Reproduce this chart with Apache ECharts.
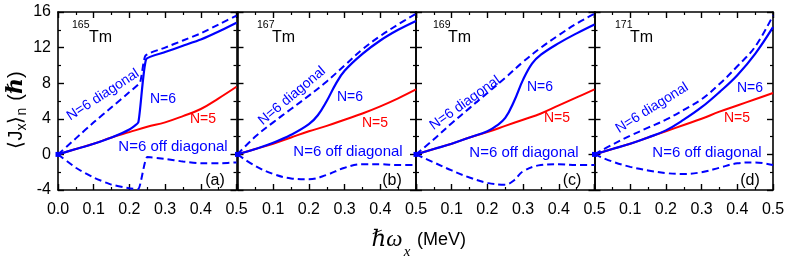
<!DOCTYPE html>
<html><head><meta charset="utf-8">
<script src="https://cdn.jsdelivr.net/npm/echarts@6/dist/echarts.min.js"></script>
<style>html,body{margin:0;padding:0;background:#fff}#c{width:789px;height:263px}</style>
</head><body><div id="c"></div>
<script>
// ---- data ----
const omega = [0,0.05,0.1,0.15,0.2,0.25,0.3,0.35,0.4,0.45,0.5];
const xTicks = [0,0.1,0.2,0.3,0.4,0.5];
const yTicks = [-4,0,4,8,12,16];
const nuclei = ['165','167','169','171'];
const panelTags = ['(a)','(b)','(c)','(d)'];

// panel (a) 165Tm
const aN5X = omega;
const aN5Y = [0,0.6,1.2,1.9,2.5,3.1,3.6,4.3,5.1,6.3,7.6];
const aN6X = [0,0.05,0.1,0.15,0.2,0.225,0.247,0.3,0.35,0.4,0.45,0.5];
const aN6Y = [0,0.6,1.2,1.9,2.8,3.6,10.7,11.5,12.2,12.9,13.8,14.8];
const aDiagX = [0,0.05,0.1,0.15,0.2,0.23,0.245,0.3,0.35,0.4,0.45,0.5];
const aDiagY = [0,1.8,3.6,5.3,7.0,8.1,11.1,12.0,12.8,13.6,14.6,15.6];
const aOffX = [0,0.05,0.1,0.15,0.2,0.225,0.25,0.3,0.35,0.4,0.45,0.5];
const aOffY = [0,-1.5,-2.6,-3.4,-3.8,-3.9,-0.3,-0.5,-0.8,-1.0,-1.0,-0.9];

// panel (b) 167Tm
const bN5X = omega;
const bN5Y = [0,0.6,1.2,1.9,2.6,3.2,3.9,4.6,5.4,6.3,7.3];
const bN6X = [0,0.05,0.1,0.15,0.2,0.225,0.25,0.275,0.3,0.35,0.4,0.45,0.5];
const bN6Y = [0,0.6,1.3,2.2,3.4,4.4,6.0,7.9,9.4,11.3,12.8,14.0,15.0];
const bDiagX = omega;
const bDiagY = [0,2.0,3.6,5.1,6.6,8.2,10.0,11.8,13.3,14.6,15.8];
const bOffX = omega;
const bOffY = [0,-1.3,-2.2,-2.7,-2.8,-2.3,-1.5,-1.1,-1.1,-1.2,-1.2];

// panel (c) 169Tm
const cN5X = omega;
const cN5Y = [0,0.6,1.2,1.9,2.5,3.2,3.9,4.6,5.5,6.4,7.3];
const cN6X = [0,0.05,0.1,0.15,0.2,0.225,0.25,0.275,0.3,0.325,0.35,0.4,0.45,0.5];
const cN6Y = [0,0.6,1.2,1.9,2.6,3.2,4.1,6.0,8.4,10.2,11.2,12.5,13.6,14.6];
const cDiagX = omega;
const cDiagY = [0,1.7,3.5,5.2,6.9,8.6,10.4,12.0,13.4,14.7,15.8];
const cOffX = [0,0.05,0.1,0.15,0.2,0.25,0.275,0.3,0.35,0.4,0.45,0.5];
const cOffY = [0,-0.9,-1.8,-2.6,-3.2,-3.4,-2.9,-1.9,-1.2,-1.1,-1.2,-1.2];

// panel (d) 171Tm
const dN5X = omega;
const dN5Y = [0,0.6,1.2,1.9,2.6,3.3,4.0,4.8,5.5,6.2,6.9];
const dN6X = omega;
const dN6Y = [0,0.6,1.2,1.9,2.7,3.9,5.3,7.0,8.9,11.3,14.3];
const dDiagX = omega;
const dDiagY = [0,1.1,2.1,3.0,3.9,5.0,6.2,7.9,9.9,12.1,15.6];
const dOffX = omega;
const dOffY = [0,-0.8,-1.4,-1.8,-2.1,-2.2,-2.0,-1.5,-1.0,-0.9,-1.2];

const panels = [
  {n5:[aN5X,aN5Y], n6:[aN6X,aN6Y], diag:[aDiagX,aDiagY], off:[aOffX,aOffY], jump:true},
  {n5:[bN5X,bN5Y], n6:[bN6X,bN6Y], diag:[bDiagX,bDiagY], off:[bOffX,bOffY]},
  {n5:[cN5X,cN5Y], n6:[cN6X,cN6Y], diag:[cDiagX,cDiagY], off:[cOffX,cOffY]},
  {n5:[dN5X,dN5Y], n6:[dN6X,dN6Y], diag:[dDiagX,dDiagY], off:[dOffX,dOffY]}
];

// ---- layout / style ----
const BLUE = '#0000ff', RED = '#ff0000';
const FONT = '"Liberation Sans", Arial, sans-serif';
const SERIF = '"Liberation Serif", "DejaVu Serif", serif';
const lefts = [58, 237.5, 416, 594.5];
const PW = 178.5, TOP = 12, PH = 178;

const zip = (xs, ys) => xs.map((x, i) => [x, ys[i]]);

const grid = [], xAxis = [], yAxis = [], series = [];
const axLine = {onZero:false, lineStyle:{color:'#000', width:1.6}};
const tick = {inside:true, length:6, lineStyle:{color:'#000', width:1.4}};
const minor = {show:true, splitNumber:2, length:3, lineStyle:{color:'#000', width:1.2}};

panels.forEach((p, i) => {
  grid.push({left:lefts[i], top:TOP, width:PW, height:PH});
  const xBase = {type:'value', gridIndex:i, min:xTicks[0], max:xTicks[xTicks.length-1], interval:0.1,
    axisLine:axLine, axisTick:tick, minorTick:minor, splitLine:{show:false}, minorSplitLine:{show:false}};
  xAxis.push(Object.assign({}, xBase, {position:'bottom',
    axisLabel:{show:true, fontSize:16, color:'#000', fontFamily:FONT, margin:12,
      showMinLabel:i===0, formatter:v=>v.toFixed(1)}}));
  xAxis.push(Object.assign({}, xBase, {position:'top', axisLabel:{show:false}}));
  const yBase = {type:'value', gridIndex:i, min:yTicks[0], max:yTicks[yTicks.length-1], interval:4,
    axisLine:axLine, axisTick:tick, minorTick:minor, splitLine:{show:false}, minorSplitLine:{show:false}};
  yAxis.push(Object.assign({}, yBase, {position:'left',
    axisLabel:{show:i===0, fontSize:16, color:'#000', fontFamily:FONT, margin:7}}));
  yAxis.push(Object.assign({}, yBase, {position:'right', axisLabel:{show:false}}));

  const xi = 2*i, yi = 2*i;
  const sm = p.jump ? 0.15 : 0.4;
  const common = {type:'line', xAxisIndex:xi, yAxisIndex:yi, symbol:'none', animation:false, z:3};
  series.push(Object.assign({}, common, {smooth:0.4, data:zip(...p.n5), lineStyle:{color:RED, width:2}}));
  series.push(Object.assign({}, common, {smooth:sm, data:zip(...p.diag), lineStyle:{color:BLUE, width:2, type:[7,4]}}));
  series.push(Object.assign({}, common, {smooth:sm, data:zip(...p.off), lineStyle:{color:BLUE, width:2, type:[7,4]}}));
  const n6 = zip(...p.n6);
  n6[0] = {value:n6[0], symbol:'rect', symbolSize:5, itemStyle:{color:BLUE}};
  series.push(Object.assign({}, common, {smooth:sm, data:n6, itemStyle:{color:BLUE}, lineStyle:{color:BLUE, width:2.2}, z:4}));
});

// annotation layout (pixels)
const notes = [
  {diag:[103,95,33], n6:[163,99], n5:[203,119], off:[173,147], tag:[215,181], nuc:[72,89]},
  {diag:[292,96,40], n6:[350,97], n5:[375,123], off:[348,152], tag:[392,181], nuc:[257,272]},
  {diag:[465,103,35.5], n6:[540,87], n5:[557,118], off:[524,153], tag:[572,181], nuc:[433,448]},
  {diag:[652,108,32], n6:[750,88], n5:[737,118], off:[707,153], tag:[750,181], nuc:[615,630]}
];
const graphic = [];
const txt = (x, y, text, size, color, extra) => Object.assign({type:'text', x, y, z:10,
  style:{text, fill:color, font:size+'px '+FONT, textAlign:'center', textVerticalAlign:'middle'}}, extra||{});
notes.forEach((n, i) => {
  graphic.push(txt(n.diag[0], n.diag[1], 'N=6 diagonal', 14, BLUE, {rotation:n.diag[2]*Math.PI/180}));
  graphic.push(txt(n.n6[0], n.n6[1], 'N=6', 14, BLUE));
  graphic.push(txt(n.n5[0], n.n5[1], 'N=5', 14, RED));
  graphic.push(txt(n.off[0], n.off[1], 'N=6 off diagonal', 15, BLUE));
  graphic.push(txt(n.tag[0], n.tag[1], panelTags[i], 16, '#000'));
  graphic.push({type:'text', x:n.nuc[0], y:25, z:10, style:{text:nuclei[i], fill:'#000', font:'10.5px '+FONT, textAlign:'left', textVerticalAlign:'middle'}});
  graphic.push({type:'text', x:n.nuc[1], y:38, z:10, style:{text:'Tm', fill:'#000', font:'16px '+FONT, textAlign:'left', textVerticalAlign:'middle'}});
});
// y-axis title
graphic.push({type:'text', x:16, y:110, rotation:Math.PI/2, z:10, style:{
  text:'{a|⟨J}{s|x}{a|⟩}{s|n}{g| }{a|(}{h|ℏ}{a|)}', textAlign:'center', textVerticalAlign:'middle',
  rich:{
    a:{fontSize:20, fontFamily:FONT, fill:'#000', lineHeight:24},
    g:{fontSize:20, fontFamily:FONT, fill:'#000', lineHeight:24, width:7},
    s:{fontSize:14, fontFamily:FONT, fill:'#000', lineHeight:14, padding:[12,0,0,0]},
    h:{fontSize:22, fontFamily:SERIF, fontStyle:'italic', fontWeight:'bold', fill:'#000', lineHeight:24}
  }}});
// x-axis title
graphic.push({type:'text', x:387, y:240, z:10, style:{text:'ℏω', fill:'#000', font:'italic 23px '+SERIF, textAlign:'center', textVerticalAlign:'middle'}});
graphic.push({type:'text', x:407, y:252, z:10, style:{text:'x', fill:'#000', font:'italic 15px '+SERIF, textAlign:'center', textVerticalAlign:'middle'}});
graphic.push({type:'text', x:417, y:240, z:10, style:{text:'(MeV)', fill:'#000', font:'18px '+FONT, textAlign:'left', textVerticalAlign:'middle'}});

const chart = echarts.init(document.getElementById('c'), null, {renderer:'canvas'});
chart.setOption({animation:false, backgroundColor:'#fff', grid, xAxis, yAxis, series, graphic});
</script>
</body></html>
